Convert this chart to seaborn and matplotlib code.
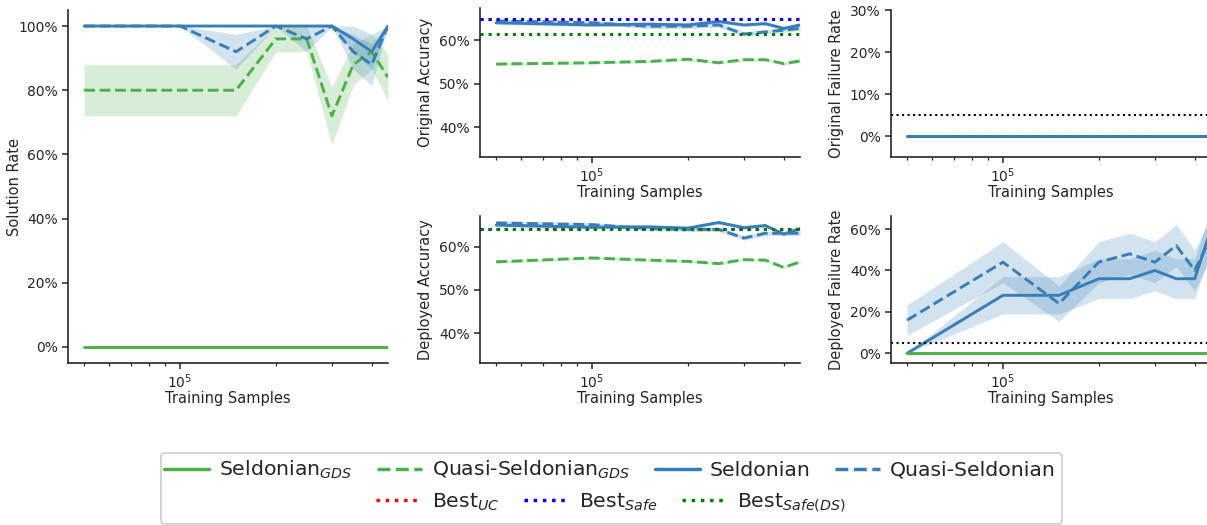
import seaborn as sns
import matplotlib.pyplot as plt
from matplotlib.lines import Line2D
from matplotlib.patches import FancyBboxPatch
from matplotlib.ticker import PercentFormatter, NullFormatter

# ---------------- data ----------------
samples = [50000, 100000, 150000, 200000, 250000, 300000, 350000, 400000, 450000]

# solution rate
sol_sgds = [0, 0, 0, 0, 0, 0, 0, 0, 0]
sol_qsgds = [0.80, 0.80, 0.80, 0.96, 0.96, 0.72, 0.88, 0.92, 0.84]
sol_qsgds_lo = [0.72, 0.72, 0.72, 0.92, 0.92, 0.63, 0.815, 0.866, 0.767]
sol_qsgds_hi = [0.88, 0.88, 0.88, 1.00, 1.00, 0.81, 0.945, 0.974, 0.913]
sol_s = [1.0, 1.0, 1.0, 1.0, 1.0, 1.0, 0.96, 0.92, 1.0]
sol_s_lo = [1.0, 1.0, 1.0, 1.0, 1.0, 1.0, 0.92, 0.866, 1.0]
sol_s_hi = [1.0, 1.0, 1.0, 1.0, 1.0, 1.0, 1.0, 0.974, 1.0]
sol_qs = [1.0, 1.0, 0.92, 1.0, 0.96, 1.0, 0.92, 0.88, 1.0]
sol_qs_lo = [1.0, 1.0, 0.866, 1.0, 0.92, 1.0, 0.866, 0.815, 1.0]
sol_qs_hi = [1.0, 1.0, 0.974, 1.0, 1.0, 1.0, 0.974, 0.945, 1.0]

# original accuracy
oacc_qsgds = [0.545, 0.548, 0.551, 0.556, 0.548, 0.555, 0.555, 0.546, 0.552]
oacc_s = [0.640, 0.635, 0.637, 0.635, 0.643, 0.635, 0.638, 0.627, 0.635]
oacc_qs = [0.644, 0.640, 0.632, 0.632, 0.635, 0.614, 0.619, 0.623, 0.627]
oacc_best_uc = 0.648
oacc_best_safe = 0.648
oacc_best_safe_ds = 0.615

# deployed accuracy
dacc_qsgds = [0.565, 0.574, 0.569, 0.566, 0.561, 0.570, 0.569, 0.552, 0.565]
dacc_s = [0.650, 0.645, 0.646, 0.643, 0.656, 0.644, 0.649, 0.629, 0.642]
dacc_qs = [0.655, 0.651, 0.642, 0.640, 0.640, 0.620, 0.631, 0.631, 0.631]
dacc_best_uc = 0.640
dacc_best_safe = 0.640
dacc_best_safe_ds = 0.640

# original failure rate
ofr_sgds = [0, 0, 0, 0, 0, 0, 0, 0, 0]
ofr_qsgds = [0, 0, 0, 0, 0, 0, 0, 0, 0]
ofr_s = [0, 0, 0, 0, 0, 0, 0, 0, 0]
ofr_qs = [0, 0, 0, 0, 0, 0, 0, 0, 0]

# deployed failure rate
dfr_sgds = [0, 0, 0, 0, 0, 0, 0, 0, 0]
dfr_s = [0.0, 0.28, 0.28, 0.36, 0.36, 0.40, 0.36, 0.36, 0.60]
dfr_s_lo = [0.0, 0.19, 0.19, 0.264, 0.264, 0.302, 0.264, 0.264, 0.502]
dfr_s_hi = [0.0, 0.37, 0.37, 0.456, 0.456, 0.498, 0.456, 0.456, 0.698]
dfr_qs = [0.16, 0.44, 0.24, 0.44, 0.48, 0.44, 0.52, 0.40, 0.56]
dfr_qs_lo = [0.087, 0.341, 0.155, 0.341, 0.38, 0.341, 0.42, 0.302, 0.461]
dfr_qs_hi = [0.233, 0.539, 0.325, 0.539, 0.58, 0.539, 0.62, 0.498, 0.659]

delta = 0.05

# ---------------- style ----------------
sns.set_theme(style="ticks")
plt.rcParams['font.family'] = ['DejaVu Sans']
plt.rcParams.update({
    'axes.labelsize': 10.5,
    'xtick.labelsize': 10,
    'ytick.labelsize': 10,
    'axes.linewidth': 1.2,
    'xtick.major.size': 4,
    'ytick.major.size': 4,
    'xtick.minor.size': 2.5,
    'xtick.major.width': 1.1,
    'ytick.major.width': 1.1,
    'xtick.minor.width': 0.9,
    'xtick.major.pad': 2.5,
})

GREEN = '#4daf4a'
BLUE = '#377eb8'

W, H = 1207, 525
fig = plt.figure(figsize=(W / 100, H / 100), dpi=100)


def px_axes(left, top, width, height):
    return fig.add_axes([left / W, (H - top - height) / H, width / W, height / H])


ax_sol = px_axes(68, 10, 320, 353)
ax_oacc = px_axes(480, 8, 320, 149)
ax_dacc = px_axes(480, 216, 320, 147)
ax_ofr = px_axes(891, 10, 320, 147)
ax_dfr = px_axes(891, 216, 320, 147)


def line(ax, y, color, ls, lo=None, hi=None):
    if lo is not None:
        ax.fill_between(samples, lo, hi, color=color, alpha=0.22, lw=0)
    sns.lineplot(x=samples, y=y, ax=ax, color=color, linestyle=ls, lw=2.1)


def finish(ax, ylabel, ylim, yticks, ylabelpad=4):
    ax.set_xscale('log')
    ax.set_xlim(44500, 450000)
    ax.xaxis.set_minor_formatter(NullFormatter())
    ax.set_ylim(*ylim)
    ax.set_yticks(yticks)
    ax.yaxis.set_major_formatter(PercentFormatter(1.0, decimals=0))
    ax.set_xlabel('Training Samples', labelpad=0)
    ax.set_ylabel(ylabel, labelpad=ylabelpad)
    sns.despine(ax=ax)


# solution rate
line(ax_sol, sol_sgds, GREEN, '-')
line(ax_sol, sol_qsgds, GREEN, '--', sol_qsgds_lo, sol_qsgds_hi)
line(ax_sol, sol_s, BLUE, '-', sol_s_lo, sol_s_hi)
line(ax_sol, sol_qs, BLUE, '--', sol_qs_lo, sol_qs_hi)
finish(ax_sol, 'Solution Rate', (-0.05, 1.05), [0, 0.2, 0.4, 0.6, 0.8, 1.0], ylabelpad=-3)

# original accuracy
line(ax_oacc, oacc_qsgds, GREEN, '--', [v - 0.003 for v in oacc_qsgds], [v + 0.003 for v in oacc_qsgds])
line(ax_oacc, oacc_s, BLUE, '-', [v - 0.004 for v in oacc_s], [v + 0.004 for v in oacc_s])
line(ax_oacc, oacc_qs, BLUE, '--', [v - 0.005 for v in oacc_qs], [v + 0.005 for v in oacc_qs])
ax_oacc.axhline(oacc_best_uc, color='red', ls=':', lw=2.2)
ax_oacc.axhline(oacc_best_safe, color='blue', ls=':', lw=2.2)
ax_oacc.axhline(oacc_best_safe_ds, color='green', ls=':', lw=2.2)
finish(ax_oacc, 'Original Accuracy', (0.331, 0.674), [0.4, 0.5, 0.6])

# deployed accuracy
line(ax_dacc, dacc_qsgds, GREEN, '--', [v - 0.003 for v in dacc_qsgds], [v + 0.003 for v in dacc_qsgds])
line(ax_dacc, dacc_s, BLUE, '-', [v - 0.004 for v in dacc_s], [v + 0.004 for v in dacc_s])
line(ax_dacc, dacc_qs, BLUE, '--', [v - 0.005 for v in dacc_qs], [v + 0.005 for v in dacc_qs])
ax_dacc.axhline(dacc_best_uc, color='red', ls=':', lw=2.2)
ax_dacc.axhline(dacc_best_safe, color='blue', ls=':', lw=2.2)
ax_dacc.axhline(dacc_best_safe_ds, color='green', ls=':', lw=2.2)
finish(ax_dacc, 'Deployed Accuracy', (0.331, 0.671), [0.4, 0.5, 0.6])

# original failure rate
line(ax_ofr, ofr_sgds, GREEN, '-')
line(ax_ofr, ofr_qsgds, GREEN, '--')
line(ax_ofr, ofr_s, BLUE, '-')
line(ax_ofr, ofr_qs, BLUE, '--')
ax_ofr.axhline(delta, color='black', ls=':', lw=1.5)
finish(ax_ofr, 'Original Failure Rate', (-0.05, 0.30), [0, 0.1, 0.2, 0.3])

# deployed failure rate
line(ax_dfr, dfr_s, BLUE, '-', dfr_s_lo, dfr_s_hi)
line(ax_dfr, dfr_qs, BLUE, '--', dfr_qs_lo, dfr_qs_hi)
line(ax_dfr, dfr_sgds, GREEN, '-')
ax_dfr.axhline(delta, color='black', ls=':', lw=1.5)
finish(ax_dfr, 'Deployed Failure Rate', (-0.047, 0.663), [0, 0.2, 0.4, 0.6])

# ---------------- legend ----------------
row1 = [
    Line2D([], [], color=GREEN, ls='-', lw=2.5),
    Line2D([], [], color=GREEN, ls='--', lw=2.5),
    Line2D([], [], color=BLUE, ls='-', lw=2.5),
    Line2D([], [], color=BLUE, ls='--', lw=2.5),
]
row1_labels = ['Seldonian$_{GDS}$', 'Quasi-Seldonian$_{GDS}$', 'Seldonian', 'Quasi-Seldonian']
row2 = [
    Line2D([], [], color='red', ls=':', lw=2.5),
    Line2D([], [], color='blue', ls=':', lw=2.5),
    Line2D([], [], color='green', ls=':', lw=2.5),
]
row2_labels = ['Best$_{UC}$', 'Best$_{Safe}$', 'Best$_{Safe(DS)}$']

leg_kw = dict(loc='center', frameon=False, fontsize=14.7, handlelength=2.2,
              handletextpad=0.5, columnspacing=1.2, borderpad=0, borderaxespad=0)
leg1 = fig.legend(row1, row1_labels, ncol=4, bbox_to_anchor=(610 / W, (H - 470) / H), **leg_kw)
leg2 = fig.legend(row2, row2_labels, ncol=3, bbox_to_anchor=(611 / W, (H - 503) / H), **leg_kw)

frame = FancyBboxPatch((161 / W, 1 / H), (1062 - 161) / W, (524 - 453) / H,
                       boxstyle='round,pad=0,rounding_size=0.0033',
                       mutation_aspect=W / H, transform=fig.transFigure,
                       facecolor='white', edgecolor='0.8', lw=1.2, zorder=0)
fig.patches.append(frame)

fig.savefig('out.png', dpi=100)
